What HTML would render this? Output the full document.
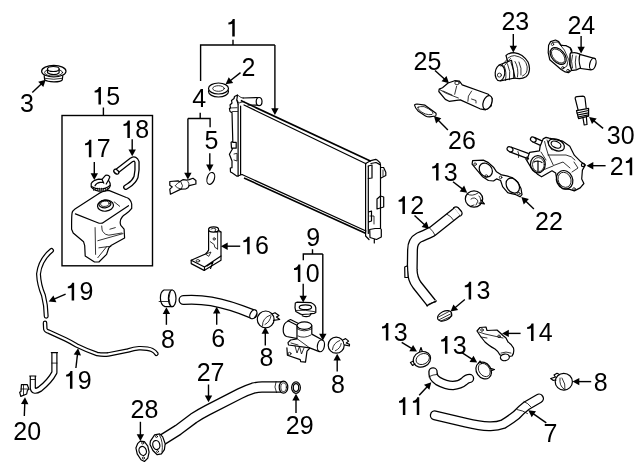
<!DOCTYPE html>
<html><head><meta charset="utf-8"><style>
html,body{margin:0;padding:0;background:#fff;width:640px;height:471px;overflow:hidden}
svg{position:absolute;left:0;top:0;will-change:transform}
text{font-family:"Liberation Sans",sans-serif;font-size:25px;fill:#000}
.ld{stroke:#000;stroke-width:1.4;fill:none}
.o{stroke:#000;stroke-width:1.2;fill:none;stroke-linejoin:round;stroke-linecap:round}
.of{stroke:#000;stroke-width:1.2;fill:#fff;stroke-linejoin:round;stroke-linecap:round}
.t{stroke:#000;stroke-width:0.8;fill:none;stroke-linecap:round}
</style></head><body>
<svg width="640" height="471" viewBox="0 0 640 471">
<path d="M232.25,36.50 V23.80 Q231.05,24.40 228.40,24.40 V22.60 Q231.75,22.20 232.75,18.90 H234.75 V36.50 Z" fill="#000"/>
<text x="241.60" y="75.80">2</text>
<text x="20.00" y="112.30">3</text>
<text x="192.20" y="107.40">4</text>
<text x="204.60" y="148.90">5</text>
<path d="M98.45,104.60 V91.90 Q97.25,92.50 94.60,92.50 V90.70 Q97.95,90.30 98.95,87.00 H100.95 V104.60 Z" fill="#000"/>
<text x="106.25" y="104.60">5</text>
<path d="M88.85,157.30 V144.60 Q87.65,145.20 85.00,145.20 V143.40 Q88.35,143.00 89.35,139.70 H91.35 V157.30 Z" fill="#000"/>
<text x="96.65" y="157.30">7</text>
<path d="M127.35,138.00 V125.30 Q126.15,125.90 123.50,125.90 V124.10 Q126.85,123.70 127.85,120.40 H129.85 V138.00 Z" fill="#000"/>
<text x="135.15" y="138.00">8</text>
<path d="M247.15,254.30 V241.60 Q245.95,242.20 243.30,242.20 V240.40 Q246.65,240.00 247.65,236.70 H249.65 V254.30 Z" fill="#000"/>
<text x="254.95" y="254.30">6</text>
<text x="306.20" y="245.60">9</text>
<path d="M297.85,282.10 V269.40 Q296.65,270.00 294.00,270.00 V268.20 Q297.35,267.80 298.35,264.50 H300.35 V282.10 Z" fill="#000"/>
<text x="305.65" y="282.10">0</text>
<path d="M71.65,300.40 V287.70 Q70.45,288.30 67.80,288.30 V286.50 Q71.15,286.10 72.15,282.80 H74.15 V300.40 Z" fill="#000"/>
<text x="79.45" y="300.40">9</text>
<path d="M69.95,388.70 V376.00 Q68.75,376.60 66.10,376.60 V374.80 Q69.45,374.40 70.45,371.10 H72.45 V388.70 Z" fill="#000"/>
<text x="77.75" y="388.70">9</text>
<text x="13.30" y="439.60">2</text>
<text x="27.20" y="439.60">0</text>
<text x="161.00" y="347.70">8</text>
<text x="211.30" y="346.60">6</text>
<text x="259.50" y="366.30">8</text>
<text x="331.00" y="392.60">8</text>
<text x="196.70" y="381.00">2</text>
<text x="210.60" y="381.00">7</text>
<text x="130.60" y="418.40">2</text>
<text x="144.50" y="418.40">8</text>
<text x="285.80" y="433.80">2</text>
<text x="299.70" y="433.80">9</text>
<text x="501.40" y="29.70">2</text>
<text x="515.30" y="29.70">3</text>
<text x="567.40" y="34.00">2</text>
<text x="581.30" y="34.00">4</text>
<text x="413.50" y="70.00">2</text>
<text x="427.40" y="70.00">5</text>
<text x="448.00" y="149.00">2</text>
<text x="461.90" y="149.00">6</text>
<text x="606.80" y="144.20">3</text>
<text x="620.70" y="144.20">0</text>
<text x="609.70" y="175.20">2</text>
<path d="M629.70,175.20 V162.50 Q628.50,163.10 625.85,163.10 V161.30 Q629.20,160.90 630.20,157.60 H632.20 V175.20 Z" fill="#000"/>
<path d="M436.05,180.50 V167.80 Q434.85,168.40 432.20,168.40 V166.60 Q435.55,166.20 436.55,162.90 H438.55 V180.50 Z" fill="#000"/>
<text x="443.85" y="180.50">3</text>
<path d="M402.45,213.90 V201.20 Q401.25,201.80 398.60,201.80 V200.00 Q401.95,199.60 402.95,196.30 H404.95 V213.90 Z" fill="#000"/>
<text x="410.25" y="213.90">2</text>
<text x="535.10" y="229.80">2</text>
<text x="549.00" y="229.80">2</text>
<path d="M468.65,299.40 V286.70 Q467.45,287.30 464.80,287.30 V285.50 Q468.15,285.10 469.15,281.80 H471.15 V299.40 Z" fill="#000"/>
<text x="476.45" y="299.40">3</text>
<path d="M531.05,341.00 V328.30 Q529.85,328.90 527.20,328.90 V327.10 Q530.55,326.70 531.55,323.40 H533.55 V341.00 Z" fill="#000"/>
<text x="538.85" y="341.00">4</text>
<path d="M385.85,340.50 V327.80 Q384.65,328.40 382.00,328.40 V326.60 Q385.35,326.20 386.35,322.90 H388.35 V340.50 Z" fill="#000"/>
<text x="393.65" y="340.50">3</text>
<path d="M444.95,353.70 V341.00 Q443.75,341.60 441.10,341.60 V339.80 Q444.45,339.40 445.45,336.10 H447.45 V353.70 Z" fill="#000"/>
<text x="452.75" y="353.70">3</text>
<text x="593.80" y="390.50">8</text>
<path d="M402.85,414.90 V402.20 Q401.65,402.80 399.00,402.80 V401.00 Q402.35,400.60 403.35,397.30 H405.35 V414.90 Z" fill="#000"/>
<path d="M416.75,414.90 V402.20 Q415.55,402.80 412.90,402.80 V401.00 Q416.25,400.60 417.25,397.30 H419.25 V414.90 Z" fill="#000"/>
<text x="543.50" y="441.80">7</text>
<path d="M233,39.7 V45 M200.6,81 V45 H274.9" class="ld"/>
<line x1="274.9" y1="45.0" x2="274.9" y2="109.2" class="ld"/>
<polygon points="274.9,115.0 271.2,108.2 278.6,108.2" fill="#000"/>
<line x1="240.5" y1="72.6" x2="230.2" y2="80.7" class="ld"/>
<polygon points="225.6,84.3 228.7,77.2 233.2,83.0" fill="#000"/>
<line x1="32.3" y1="92.5" x2="41.5" y2="83.7" class="ld"/>
<polygon points="45.7,79.7 43.3,87.1 38.2,81.7" fill="#000"/>
<path d="M200.2,112.7 V118.5 M210.1,127.2 V118.5 H187.9" class="ld"/>
<line x1="187.9" y1="118.5" x2="187.9" y2="173.7" class="ld"/>
<polygon points="187.9,179.5 184.2,172.7 191.6,172.7" fill="#000"/>
<line x1="209.8" y1="153.3" x2="209.8" y2="165.6" class="ld"/>
<polygon points="209.8,171.4 206.1,164.6 213.5,164.6" fill="#000"/>
<path d="M103.4,107.5 V115.5" class="ld"/>
<rect x="62" y="115.5" width="90.5" height="150.3" class="ld" fill="none"/>
<line x1="94.3" y1="162.0" x2="94.3" y2="174.2" class="ld"/>
<polygon points="94.3,180.0 90.6,173.2 98.0,173.2" fill="#000"/>
<line x1="132.2" y1="139.3" x2="132.2" y2="150.5" class="ld"/>
<polygon points="132.2,156.3 128.5,149.5 135.9,149.5" fill="#000"/>
<line x1="240.2" y1="246.2" x2="226.7" y2="246.2" class="ld"/>
<polygon points="220.9,246.2 227.7,242.6 227.7,249.9" fill="#000"/>
<path d="M312.5,249.3 V254 M303.3,260.3 V254 H322.8" class="ld"/>
<line x1="322.8" y1="254.0" x2="322.8" y2="334.7" class="ld"/>
<polygon points="322.8,340.5 319.1,333.7 326.5,333.7" fill="#000"/>
<line x1="303.2" y1="283.7" x2="303.2" y2="296.8" class="ld"/>
<polygon points="303.2,302.6 299.5,295.8 306.9,295.8" fill="#000"/>
<line x1="65.6" y1="294.1" x2="54.0" y2="299.2" class="ld"/>
<polygon points="48.7,301.6 53.4,295.5 56.4,302.2" fill="#000"/>
<line x1="75.9" y1="368.0" x2="77.5" y2="354.1" class="ld"/>
<polygon points="78.1,348.3 81.0,355.5 73.7,354.6" fill="#000"/>
<line x1="24.3" y1="416.0" x2="24.8" y2="403.1" class="ld"/>
<polygon points="25.0,397.3 28.4,404.2 21.0,404.0" fill="#000"/>
<line x1="166.4" y1="324.8" x2="166.4" y2="313.1" class="ld"/>
<polygon points="166.4,307.3 170.1,314.1 162.7,314.1" fill="#000"/>
<line x1="216.7" y1="324.8" x2="216.7" y2="312.5" class="ld"/>
<polygon points="216.7,306.7 220.4,313.5 213.0,313.5" fill="#000"/>
<line x1="265.3" y1="345.6" x2="265.3" y2="332.8" class="ld"/>
<polygon points="265.3,327.0 269.0,333.8 261.6,333.8" fill="#000"/>
<line x1="337.2" y1="371.5" x2="337.2" y2="359.6" class="ld"/>
<polygon points="337.2,353.8 340.9,360.6 333.5,360.6" fill="#000"/>
<line x1="208.5" y1="384.5" x2="208.5" y2="396.5" class="ld"/>
<polygon points="208.5,402.3 204.8,395.5 212.2,395.5" fill="#000"/>
<line x1="140.4" y1="421.8" x2="140.4" y2="435.3" class="ld"/>
<polygon points="140.4,441.1 136.7,434.3 144.1,434.3" fill="#000"/>
<line x1="296.0" y1="412.9" x2="296.0" y2="399.6" class="ld"/>
<polygon points="296.0,393.8 299.7,400.6 292.3,400.6" fill="#000"/>
<line x1="513.3" y1="33.9" x2="513.3" y2="46.7" class="ld"/>
<polygon points="513.3,52.5 509.6,45.7 517.0,45.7" fill="#000"/>
<line x1="581.1" y1="36.1" x2="581.1" y2="47.8" class="ld"/>
<polygon points="581.1,53.6 577.4,46.8 584.8,46.8" fill="#000"/>
<line x1="435.0" y1="70.4" x2="444.7" y2="79.3" class="ld"/>
<polygon points="449.0,83.2 441.5,81.3 446.5,75.9" fill="#000"/>
<line x1="447.9" y1="130.0" x2="438.0" y2="120.1" class="ld"/>
<polygon points="433.9,116.0 441.3,118.2 436.1,123.4" fill="#000"/>
<line x1="603.1" y1="128.4" x2="593.6" y2="120.6" class="ld"/>
<polygon points="589.1,116.9 596.7,118.4 592.0,124.1" fill="#000"/>
<line x1="605.6" y1="165.7" x2="592.3" y2="165.7" class="ld"/>
<polygon points="586.5,165.7 593.3,162.0 593.3,169.4" fill="#000"/>
<line x1="453.0" y1="181.7" x2="462.6" y2="189.1" class="ld"/>
<polygon points="467.2,192.7 459.6,191.5 464.1,185.6" fill="#000"/>
<line x1="414.5" y1="215.5" x2="424.8" y2="224.9" class="ld"/>
<polygon points="429.1,228.8 421.6,227.0 426.6,221.5" fill="#000"/>
<line x1="533.9" y1="209.0" x2="525.6" y2="201.0" class="ld"/>
<polygon points="521.4,197.0 528.9,199.0 523.7,204.4" fill="#000"/>
<line x1="464.8" y1="299.5" x2="455.0" y2="307.8" class="ld"/>
<polygon points="450.6,311.6 453.4,304.4 458.2,310.0" fill="#000"/>
<line x1="520.6" y1="333.4" x2="507.8" y2="333.4" class="ld"/>
<polygon points="502.0,333.4 508.8,329.7 508.8,337.1" fill="#000"/>
<line x1="401.7" y1="342.4" x2="412.0" y2="348.6" class="ld"/>
<polygon points="417.0,351.6 409.3,351.3 413.1,344.9" fill="#000"/>
<line x1="461.9" y1="352.7" x2="472.3" y2="359.4" class="ld"/>
<polygon points="477.2,362.5 469.5,361.9 473.5,355.7" fill="#000"/>
<line x1="591.2" y1="381.6" x2="578.3" y2="381.6" class="ld"/>
<polygon points="572.5,381.6 579.3,377.9 579.3,385.3" fill="#000"/>
<line x1="419.2" y1="395.3" x2="427.4" y2="386.5" class="ld"/>
<polygon points="431.3,382.2 429.4,389.7 424.0,384.7" fill="#000"/>
<line x1="546.3" y1="422.9" x2="533.1" y2="413.6" class="ld"/>
<polygon points="528.3,410.3 536.0,411.2 531.7,417.2" fill="#000"/>
<path d="M243,98 L259.1,97.5 M248,105 L259.1,105.1" class="o"/>
<ellipse cx="259.1" cy="101.6" rx="2.9" ry="4.1" transform="rotate(0 259.1 101.6)" class="of"/>
<path d="M238.1,104 V176.3 M240.6,106 V174.5" class="o"/>
<path d="M240.8,100.6 L370.9,161.2" stroke="#000" stroke-width="1.6" fill="none"/>
<path d="M244,105 L366,163.7" class="o"/>
<path d="M242,174.5 L366,231" class="o"/>
<path d="M244,178 L366,233.6" stroke="#000" stroke-width="1.6" fill="none"/>
<path d="M238.1,104 L236.8,100 L237.5,95 L234.5,96.5 L234,98.5 L231.5,100.5 L232,103 L230,105 L230.5,108 L229.4,108.5 L230,111.5 L232,112.6 L232.8,141.4 L231.1,142.3 L231.5,148.2 L236.2,148.2 L236.2,142.3 L232.8,142.3 M232.8,148.2 L229.4,154.2 L232,161 L232,167.7 L230.3,168 L230.5,172 L232,172.8 L237,176.2 L242,174.5" class="o"/>
<path d="M237.5,95 L241,97.5 L243.5,98 M236.8,100 L239,103 L244,101.5 M230,108 L237,107.7 M232.5,111.5 L237.5,111.5 M234,154 L237,153.3 L237,161 L234,160" class="t"/>
<path d="M365.6,163.3 V236 L369,239.5 M368.3,166 V233.5" class="o"/>
<path d="M366.1,163.3 L370.9,160.6 L375.7,159.3 L377.8,160.6 L380,162.7 L380.5,164.9 V228.5 L381.3,229.5 V237 L376.5,239.5 L370,237.5 L369.7,229.5 L375,228.5 L380.5,228.5 M374.3,239.5 V243" class="o"/>
<path d="M370.9,163.5 L376,162.5 L380.5,164.9 M368.3,166 L372,165 V178 L368.3,178.5 M381,167.5 L383.6,167.5 L385.8,172.3 V175.5 L381,178 M380.5,196 L377,199 V209 L383.7,207 V197 L380.5,196 M368.5,212 L371.5,211 V221 L368.5,222" class="o"/>
<path d="M383,170 V176 M370,216 L374,216 V224" class="t"/>
<ellipse cx="218.5" cy="91.5" rx="10" ry="5.5" transform="rotate(0 218.5 91.5)" class="o"/>
<ellipse cx="218.5" cy="88.5" rx="10" ry="5.5" transform="rotate(0 218.5 88.5)" class="of"/>
<ellipse cx="218.5" cy="88.5" rx="5.8" ry="2.8" transform="rotate(0 218.5 88.5)" class="t"/>
<path d="M44.2,75.5 L44.6,79.8 Q47,81.8 54,81.8 Q61,81.8 62.3,79.8 L62.8,75.5" class="of"/>
<path d="M44.5,78.3 Q54,80.3 62.5,78.3" class="t"/>
<ellipse cx="53.8" cy="71.2" rx="12.2" ry="5.8" transform="rotate(0 53.8 71.2)" class="of"/>
<ellipse cx="53.6" cy="72.5" rx="9" ry="3.6" transform="rotate(0 53.6 72.5)" class="t"/>
<path d="M47.5,69.2 V72.8 Q50,74.6 53.5,74.6 Q57.5,74.6 59.1,72.8 V69.2" class="of"/>
<ellipse cx="53.3" cy="69" rx="5.8" ry="2.5" transform="rotate(0 53.3 69)" class="of"/>
<ellipse cx="210.8" cy="178.4" rx="3.6" ry="6.1" transform="rotate(18 210.8 178.4)" class="o"/>
<path d="M169.8,181.5 L178.1,180.8 L179.6,181.8 L183.2,179.6 L186.7,180.2 L189.2,179.6 L193,178.3 L195.9,180.5 L195.9,184 L189.2,185.6 L187.9,187.8 L186,188.8 L180.9,189.1 L170.4,194.2 L169.8,189.1 L172.3,186.9 L169.8,185.3 Z" class="of"/>
<path d="M179.6,181.8 Q174,186 175.5,186.2 Q177,188 180.9,189.1 M181,182 Q184,186 181.5,189 M187.9,181.5 Q189.5,183.5 188.9,185.6" class="t"/>
<path d="M72.1,212.8 C71.5,216 71.6,220 71.6,229.2 L73.2,233 L83.6,241.8 L84.7,245.6 L85.2,256 L94.5,262 L98.9,262 L106.6,254.4 L108.8,247.8 L111,245.6 L124.6,238 L124.1,229.2 L120.8,225.4 C119.5,222 120,219.5 122.5,216.5 C126,213.5 128.5,212.8 131.7,208.4 V204 C131,200 128,197.5 126.3,197.5 L108.8,190.4 C104,191 100,192.5 97.8,194.2 L75,209 C73,210.5 72.3,211.5 72.1,212.8 Z" class="of"/>
<path d="M75.4,213.9 L97.8,222.7 C99,223.3 101,223.3 102.2,223.2 L128.5,205.7" class="o"/>
<path d="M95.1,227.6 L95.6,254.4 M101.7,226 Q102,231.4 102.7,231.4 Q105,235.2 108.8,235.2 L121.9,233 M97.8,240.7 L123,233.6 M98.9,247.8 L111,246.2 M97.8,257.7 L106.6,246.7 M109.9,229.2 L115.3,227.6 M114.2,201.9 L119.7,206.3" class="t"/>
<ellipse cx="105.5" cy="205.7" rx="8" ry="5.5" transform="rotate(-5 105.5 205.7)" class="o"/>
<ellipse cx="104.9" cy="204" rx="6" ry="3.8" transform="rotate(-5 104.9 204)" class="o"/>
<ellipse cx="104.9" cy="203.8" rx="4.3" ry="2.6" transform="rotate(-5 104.9 203.8)" class="t"/>
<path d="M91.2,183.5 Q93,180.3 98.6,179.2 L102,179.4 L105.5,175.3 Q108.5,174.5 109.8,176.9 L108.4,180.2 Q110.5,183 110.3,185.5 Q110,188.5 105,190.9 L98.6,191.1 Q93.5,190.2 91.2,187 Z" class="of"/>
<path d="M91.5,186.5 Q95,189 100,189 Q106,189 110,185.5" class="o"/>
<path d="M93.5,188.5 L93.8,190.6 M95.5,188.3 L95.8,190.6 M97.5,188.2 L97.8,190.6 M99.5,188.2 L99.8,190.6 M101.5,188.2 L101.8,190.6 M103.5,188.3 L103.8,190.6 M105.5,188.4 L105.8,190.6 M107.5,188.5 L107.8,190.6" class="t"/>
<path d="M95,185.8 Q96,183.2 100,182.4 L103.5,182.2 M102,179.4 L103.8,183.2 M108.4,180.2 L106.2,184" class="o"/>
<path d="M116.3,171.7 L131.8,159.7 Q135.5,157.5 137,162 Q137.5,170 136,177 Q134,182 128.5,185.5 L125.8,187.2" fill="none" stroke="#000" stroke-width="5.4" stroke-linecap="round" stroke-linejoin="round"/>
<path d="M116.3,171.7 L131.8,159.7 Q135.5,157.5 137,162 Q137.5,170 136,177 Q134,182 128.5,185.5 L125.8,187.2" fill="none" stroke="#fff" stroke-width="2.8000000000000003" stroke-linecap="round" stroke-linejoin="round"/>
<ellipse cx="116.3" cy="171.7" rx="1.8" ry="2.9" transform="rotate(-50 116.3 171.7)" class="of"/>
<path d="M208.6,229 V250 Q208,252 205.5,254 L191.2,260.2 V263.6 L204.1,270.4 L221,260.2 V232 L218.7,230.5" class="of"/>
<path d="M191.2,260.2 L204.5,267 L221,256 M204.5,267 V270.4 M207,266 L213,262 L210.5,268.5" class="o"/>
<ellipse cx="213.6" cy="229.5" rx="5" ry="2.6" transform="rotate(0 213.6 229.5)" class="of"/>
<path d="M211,229 Q213.5,227.5 216,229 L215,231.2 L217.6,232.4 V249 M214.8,231.6 L221,232" class="t"/>
<path d="M210.3,241.7 L214.2,244.5 L214.8,247.3 L217.6,249 M206,254 L211,252 L209,256 Z" class="t"/>
<ellipse cx="214.2" cy="238.9" rx="1.1" ry="1.2" transform="rotate(0 214.2 238.9)" class="t"/>
<ellipse cx="197.9" cy="260.8" rx="1.8" ry="1.2" transform="rotate(0 197.9 260.8)" class="t"/>
<path d="M302.2,315.7 Q306,317.5 309.6,316 L311.2,313.6" class="o"/>
<path d="M295.3,303 L296.9,302.2 L311.2,302.7 Q314,304 315,305.6 L315.8,307.7 V312.5 L314.4,313.3 L311.2,313.6 L309.6,314 L302.2,314.5 L300.6,314.1 L295.8,311.5 L295,307.7 Z" class="of"/>
<ellipse cx="305.4" cy="307.3" rx="6.2" ry="2.4" transform="rotate(0 305.4 307.3)" class="o"/>
<path d="M296.4,310.4 Q305,309.5 315,311.7" class="t"/>
<path d="M288.5,321 L297.5,325.5 V338.7 L286.5,336.5 Q283,335 283.2,329 Q283.5,322.5 288.5,321 Z" class="of"/>
<path d="M288,320.8 L290.5,319.5 L298.5,323.5" class="o"/>
<path d="M297,325.8 V339 L290.6,340 L288,342.6 L288.5,345 L309.7,347.9 L319.3,351.6 L322.5,340 L311.8,334.1 V325.8 Z" class="of"/>
<ellipse cx="304.4" cy="325.6" rx="7.4" ry="3.7" transform="rotate(0 304.4 325.6)" class="of"/>
<path d="M297.2,328.8 Q304,333 311.8,328.8" class="t"/>
<path d="M298,336 Q304,339 311,335 M297.5,339 L309.7,347.9" class="t"/>
<ellipse cx="320.9" cy="345.8" rx="3.5" ry="6" transform="rotate(10 320.9 345.8)" class="of"/>
<path d="M286.9,347.9 L287.4,355.3 L300.2,359.6 L300.7,361.7 L305.5,362.2 L307,351.1 L309.5,348.5" class="o"/>
<path d="M295,346 L297,353 L299.5,346.5 L301.5,354 L304,348 M291,343 L298,345" class="t"/>
<ellipse cx="289.6" cy="353.7" rx="1.4" ry="1.4" transform="rotate(0 289.6 353.7)" class="t"/>
<path d="M164,290 Q160.2,292 160.4,298 Q160.5,305 165,306.6 L172.2,306.6 M164,290 L172.2,290" class="of"/>
<ellipse cx="172.2" cy="298.3" rx="3.8" ry="8.3" transform="rotate(0 172.2 298.3)" class="of"/>
<path d="M170.3,291 Q167.5,298 170.3,306 M159.1,301.5 H167.7" class="t"/>
<ellipse cx="265.7" cy="319.4" rx="8.4" ry="8.4" transform="rotate(0 265.7 319.4)" class="of"/>
<path d="M262.5,326 Q262,318 270.5,315 M265,324.5 Q270,322 271,316" class="t"/>
<path d="M272,314 L275,312.7 L279,315.5 L276.5,317 L279.7,319.5 L273.5,320.4" class="o"/>
<ellipse cx="336.2" cy="345.2" rx="8" ry="8" transform="rotate(0 336.2 345.2)" class="of"/>
<path d="M332.5,349.5 Q333,343 339.8,340.5 M335.3,350.8 Q340.5,348.5 341.2,343.5" class="t"/>
<path d="M343.3,339.7 L345.6,338.6 L348.6,341.1 L346.3,343 L349.5,344.4 L349.4,346 L344.5,344.8" class="of"/>
<ellipse cx="563.8" cy="381.7" rx="8.6" ry="8.4" transform="rotate(0 563.8 381.7)" class="of"/>
<path d="M560,378 Q559,386 564,389 M562,378 Q566,384 565,390" class="t"/>
<path d="M559.5,374.5 L557,373.3 L554,375 L555.5,377 L550.7,378.5 L553,380.3 L556,380" class="o"/>
<path d="M183.5,300 C200,299 218,300 252.5,314" fill="none" stroke="#000" stroke-width="10" stroke-linecap="round" stroke-linejoin="round"/>
<path d="M183.5,300 C200,299 218,300 252.5,314" fill="none" stroke="#fff" stroke-width="7.4" stroke-linecap="round" stroke-linejoin="round"/>
<ellipse cx="253.3" cy="314.3" rx="3" ry="4.8" transform="rotate(30 253.3 314.3)" class="of"/>
<path d="M51.5,250.5 Q40,260 38.5,274 Q39,285 43.4,295.2 Q46,305 46.2,316.3" fill="none" stroke="#000" stroke-width="5" stroke-linecap="round" stroke-linejoin="round"/>
<path d="M51.5,250.5 Q40,260 38.5,274 Q39,285 43.4,295.2 Q46,305 46.2,316.3" fill="none" stroke="#fff" stroke-width="2.6" stroke-linecap="round" stroke-linejoin="round"/>
<path d="M45,322.8 L45.3,329 Q45.8,331 49,331.8 L65.4,339.3 Q71,342 76.7,345.5 Q88,351 97.1,354 Q103,355 108.3,354.4 Q118,352.5 128,350.5 Q134,348.5 139,348.2 Q148,348 152,350 Q155,351.5 156.4,353.8" fill="none" stroke="#000" stroke-width="4.6" stroke-linecap="round" stroke-linejoin="round"/>
<path d="M45,322.8 L45.3,329 Q45.8,331 49,331.8 L65.4,339.3 Q71,342 76.7,345.5 Q88,351 97.1,354 Q103,355 108.3,354.4 Q118,352.5 128,350.5 Q134,348.5 139,348.2 Q148,348 152,350 Q155,351.5 156.4,353.8" fill="none" stroke="#fff" stroke-width="2.1999999999999997" stroke-linecap="round" stroke-linejoin="round"/>
<path d="M54.4,352.6 V372.5 Q50,381 40,389 Q33.5,393 32.8,388 V376" fill="none" stroke="#000" stroke-width="6.2" stroke-linecap="butt" stroke-linejoin="round"/>
<path d="M54.4,352.6 V372.5 Q50,381 40,389 Q33.5,393 32.8,388 V376" fill="none" stroke="#fff" stroke-width="3.8000000000000003" stroke-linecap="butt" stroke-linejoin="round"/>
<path d="M51.3,352.6 H57.5 M29.7,376 H35.9" class="o"/>
<path d="M51.8,363.1 H57 M30.5,379.5 H35" class="t"/>
<path d="M21.4,384.7 L27.3,384.7 L29,389.4 L27.5,390 L26.7,394 L20.8,396.4 L19.7,392.3 L21,391.5 Z" class="of"/>
<path d="M23.5,385 V395 M21,389 L28,389" class="t"/>
<path d="M162,440 Q170,435 178,430 Q186,424 193.6,418.3 Q200,414 207.6,410.1 L239.7,393.7 Q247,390 253,388.2 Q258,387 262,387 L284,387" fill="none" stroke="#000" stroke-width="11.5" stroke-linecap="butt" stroke-linejoin="round"/>
<path d="M162,440 Q170,435 178,430 Q186,424 193.6,418.3 Q200,414 207.6,410.1 L239.7,393.7 Q247,390 253,388.2 Q258,387 262,387 L284,387" fill="none" stroke="#fff" stroke-width="8.9" stroke-linecap="butt" stroke-linejoin="round"/>
<ellipse cx="283.5" cy="387.2" rx="4.3" ry="6" transform="rotate(0 283.5 387.2)" class="of"/>
<ellipse cx="283.6" cy="387.2" rx="2.8" ry="4.3" transform="rotate(0 283.6 387.2)" class="t"/>
<path d="M276,381.6 Q273.5,387 276.5,392.6" class="t"/>
<path d="M150.4,441.1 L154.6,434.8 L159.7,433.9 L162.7,436.9 L165.2,443.7 L164.4,449.6 L161.4,453.9 L157.2,454.7 L152.9,450.5 L150,444.5 Z" class="of"/>
<ellipse cx="156.3" cy="445" rx="3.5" ry="4.5" transform="rotate(-15 156.3 445)" class="o"/>
<path d="M159.5,435 Q163.5,442 162,452" class="t"/>
<ellipse cx="156.5" cy="436.5" rx="1" ry="1" transform="rotate(0 156.5 436.5)" class="t"/>
<ellipse cx="157.5" cy="451.5" rx="1" ry="1" transform="rotate(0 157.5 451.5)" class="t"/>
<path d="M140.2,441.1 L144.4,441.6 L147.8,446.2 L149.1,452.2 L147.8,458.1 L144.4,461.5 L141,459.8 L137.2,453.9 L135.9,447.9 L137.6,443.7 Z" class="o"/>
<ellipse cx="142.7" cy="450.9" rx="3.6" ry="4.6" transform="rotate(-20 142.7 450.9)" class="o"/>
<ellipse cx="142.7" cy="443" rx="1.1" ry="1.1" transform="rotate(0 142.7 443)" class="t"/>
<ellipse cx="143.4" cy="458" rx="1.1" ry="1.1" transform="rotate(0 143.4 458)" class="t"/>
<ellipse cx="296" cy="387.6" rx="4.4" ry="5.7" transform="rotate(0 296 387.6)" class="o"/>
<ellipse cx="296" cy="387.6" rx="2.7" ry="3.9" transform="rotate(0 296 387.6)" class="o"/>
<path d="M506,55.5 Q509.5,52.6 513.8,52.6 Q518.5,53 522,55.5 Q526,58.5 528,62 Q529.8,66 529.4,70 Q529,74.5 526,76.8 Q523,78.6 519.5,78.6 L512,78 Z" class="of"/>
<path d="M508,58 Q511,55.6 514.5,55.6 Q519.5,56.3 523.4,59.3 Q526.6,62.5 527.2,66.8 Q527.4,70.5 526.3,72.8 Q524.8,75 522.5,76" class="t"/>
<path d="M511.5,60.3 L499,65 L500.4,80.8 L515,78 Z" class="of"/>
<ellipse cx="500" cy="72.9" rx="4.8" ry="7.9" transform="rotate(5 500 72.9)" class="of"/>
<ellipse cx="499.4" cy="75.1" rx="2" ry="2" transform="rotate(0 499.4 75.1)" class="t"/>
<path d="M504,65.5 Q507,72 505.5,80.5 M507.5,63.8 Q511,71 509.5,79.8 M511,62.5 Q515,70 513.5,78.5 M515,61.5 Q519,68 517.5,77 M519,62 Q522,68 521,75 M505,65 L510.5,58.5 M501,66.2 L507,59.5" class="t"/>
<path d="M578,53.8 L595.2,58.6 L591,69.8 L577,68 Z" class="of"/>
<ellipse cx="592.8" cy="64" rx="3" ry="5.9" transform="rotate(15 592.8 64)" class="of"/>
<path d="M561.1,45.3 Q566,44.8 570,47.7 Q572.5,50 571.6,53 Q576,52 580,54.3 Q578,60 580.5,67.9 Q575,71 571.6,70.3 L570,64 V55 Z" class="of"/>
<path d="M572.5,55 Q570.5,61 572.5,68 M576,56 Q574.5,62 576,68.5" class="t"/>
<path d="M550.6,41.6 L555.5,40 L558.7,41.6 L561.1,45.3 L566,45.7 L570,47.7 L571.6,51.7 L570,54.1 L569.6,64.4 L571.6,70.3 L568.4,72.7 L565.2,71.9 L561.1,69.5 L549.8,59.8 L548.2,52.5 L548.6,45.3 Z" class="of"/>
<path d="M552.3,42.4 L557.9,42 L564.4,50.1 L568.4,59 L566.8,66.2 L562.7,68.6" class="t"/>
<ellipse cx="558.2" cy="56" rx="6.3" ry="9.8" transform="rotate(-42 558.2 56)" class="o"/>
<ellipse cx="558.2" cy="56" rx="5" ry="8.4" transform="rotate(-42 558.2 56)" class="t"/>
<ellipse cx="552.5" cy="44.3" rx="1.2" ry="1.2" transform="rotate(0 552.5 44.3)" class="t"/>
<ellipse cx="562.8" cy="67.8" rx="1.2" ry="1.2" transform="rotate(0 562.8 67.8)" class="t"/>
<ellipse cx="568" cy="70.6" rx="1.3" ry="1.3" transform="rotate(0 568 70.6)" class="t"/>
<path d="M439.2,89.1 L442.5,87.7 L448.1,83 L454.7,80.7 L459.4,81.2 L462.2,84.9 L488.4,94.3 L492.2,98.5 L491.2,106 L485.6,109.8 L480,108.8 L460.3,99.9 L449.1,101.3 L445.3,99.4 L438.8,91.5 Z" class="of"/>
<ellipse cx="487.5" cy="102.5" rx="4.2" ry="7.2" transform="rotate(20 487.5 102.5)" class="of"/>
<path d="M439.7,89.6 L446.2,93.3 L458.4,98 M456.6,86.3 L454.7,94.3 M471.6,91 Q467,96 467.8,101.3 M471.5,99 L476,100.5 V103 M443,91 L452,95" class="t"/>
<ellipse cx="457" cy="83" rx="2.2" ry="1.8" transform="rotate(0 457 83)" class="t"/>
<path d="M414.5,105 Q415.5,104 417,104 L425,105.2 L436,113.2 Q436.5,115.5 435.5,116 L429.7,116.9 Q427,116.8 425.5,115.9 L418.4,111.3 Q415,108 414.5,105 Z" class="o"/>
<path d="M418,107.2 Q420,106.3 424,106.6 Q429,108.5 432.5,111.7 Q433.5,114 432,114.5 Q428.5,115 425.5,114 Q421.5,112.5 419.4,110.3 Q417.5,108.5 418,107.2 Z" class="t"/>
<path d="M578.2,110.4 L575.2,98.5 Q575,96.8 577,96.6 L583,96.2 Q584.8,96.4 585,98 L586.2,108.3" class="of"/>
<path d="M576.5,110.6 L588.6,108.3 L588.6,116.2 L578.6,118.6 Z" class="of"/>
<path d="M577,113 L588.5,110.5 M577.5,115 L588.5,112.8 M578,117 L588.5,114.8" class="o"/>
<path d="M583,118 L584.2,125 L587,124.5 L586.4,117.3" class="o"/>
<path d="M533.3,139.6 L542.5,143.8" fill="none" stroke="#000" stroke-width="6" stroke-linecap="butt" stroke-linejoin="round"/>
<path d="M533.3,139.6 L542.5,143.8" fill="none" stroke="#fff" stroke-width="3.4" stroke-linecap="butt" stroke-linejoin="round"/>
<ellipse cx="533.3" cy="139.6" rx="2.3" ry="3" transform="rotate(-60 533.3 139.6)" class="of"/>
<path d="M510,149.3 L528,156" fill="none" stroke="#000" stroke-width="6.2" stroke-linecap="butt" stroke-linejoin="round"/>
<path d="M510,149.3 L528,156" fill="none" stroke="#fff" stroke-width="3.6" stroke-linecap="butt" stroke-linejoin="round"/>
<ellipse cx="510" cy="149.3" rx="2.3" ry="3.1" transform="rotate(-60 510 149.3)" class="of"/>
<path d="M526.7,160.4 L529.7,152.3 L539.4,150.8 L540.1,146.3 L543.1,138.9 L546,137.4 L549,138.2 L562.4,141.1 L569.8,146.3 L574.3,155.2 L580.2,161.2 L585.4,164.9 L582.4,170.1 L581.7,179 L583.9,183.5 L580.2,187.9 L574.3,190.9 L569.8,189.4 L562.4,188.7 L557.2,182 L555.7,173.1 L552,170.8 L541.6,176.8 L537.9,174.6 L531.2,167.9 Z" class="of"/>
<path d="M518,151.5 Q519.5,154 518.5,157.5 M544.6,141.5 Q546,148 548,154 L553.5,165.5 L563,162 L570,168 M548,155 L566,155 Q572,156 575,160 M541,152 L546,160 M543,170 L553,166 M574,162 L578,168 L572,172 M547,140 Q548,146 552,150" class="t"/>
<ellipse cx="537.9" cy="164.2" rx="7.4" ry="8.6" transform="rotate(0 537.9 164.2)" class="o"/>
<ellipse cx="538.4" cy="164.6" rx="5.9" ry="7" transform="rotate(0 538.4 164.6)" class="t"/>
<path d="M534,162 Q538,159.8 542,162.5 M538,161 V171" class="o"/>
<ellipse cx="564.6" cy="179.8" rx="8" ry="9.5" transform="rotate(-25 564.6 179.8)" class="o"/>
<ellipse cx="564.6" cy="179.8" rx="6.3" ry="7.8" transform="rotate(-25 564.6 179.8)" class="t"/>
<ellipse cx="556.4" cy="144.9" rx="8.5" ry="5.5" transform="rotate(25 556.4 144.9)" class="o"/>
<ellipse cx="556" cy="144.6" rx="5.2" ry="3.1" transform="rotate(25 556 144.6)" class="o"/>
<ellipse cx="527" cy="158.6" rx="1.6" ry="1.6" transform="rotate(0 527 158.6)" class="t"/>
<ellipse cx="583" cy="165" rx="1.6" ry="1.6" transform="rotate(0 583 165)" class="o"/>
<ellipse cx="574" cy="189" rx="1.3" ry="1.3" transform="rotate(0 574 189)" class="t"/>
<path d="M472.6,160.6 L483.3,160.1 L488.4,162.6 L493.5,167.2 L496.5,171.8 L501.6,174.9 L506.7,175.9 L512.8,177.9 L517.9,182.5 L521,188.6 L522,194.7 L520,196.8 L515.9,194.7 L507.7,192.7 L502.6,186.6 L500.6,180.5 L496.5,178.9 L493.5,181 L488.4,180.5 L482.3,176.4 L477.2,170.3 L472.1,164.2 Z" class="o"/>
<ellipse cx="485.8" cy="170" rx="6" ry="7.4" transform="rotate(-40 485.8 170)" class="o"/>
<ellipse cx="512.8" cy="185.6" rx="6" ry="8" transform="rotate(-35 512.8 185.6)" class="o"/>
<ellipse cx="486.3" cy="176.2" rx="1.4" ry="1.4" transform="rotate(0 486.3 176.2)" class="t"/>
<ellipse cx="475.1" cy="164.2" rx="1.3" ry="1.3" transform="rotate(0 475.1 164.2)" class="t"/>
<ellipse cx="500.6" cy="177.4" rx="1.3" ry="1.3" transform="rotate(0 500.6 177.4)" class="t"/>
<ellipse cx="518.9" cy="193.7" rx="1.3" ry="1.3" transform="rotate(0 518.9 193.7)" class="t"/>
<ellipse cx="474" cy="199" rx="8.7" ry="8.2" transform="rotate(0 474 199)" class="of"/>
<path d="M467,194 Q472,197 478,193 M471,199 Q475,196 478,201 L476,205 M479,196 Q482,199 480,204 M474,205 L471,206" class="t"/>
<path d="M479,203 L484.4,204 L481,199.9" class="o"/>
<path d="M457.2,211.8 L432.3,231.5 Q424,235.5 419,237.5 Q412.5,241 412.5,250 L412.2,270 Q412.5,279 417,285 L431.6,303.3" fill="none" stroke="#000" stroke-width="11" stroke-linecap="butt" stroke-linejoin="round"/>
<path d="M457.2,211.8 L432.3,231.5 Q424,235.5 419,237.5 Q412.5,241 412.5,250 L412.2,270 Q412.5,279 417,285 L431.6,303.3" fill="none" stroke="#fff" stroke-width="8.4" stroke-linecap="butt" stroke-linejoin="round"/>
<path d="M453.6,207.7 Q456,206 458,207.5 L461.5,211.5 Q463,214 460.7,215.9 M426.8,305.8 L436.4,300.9" class="o"/>
<path d="M447,214.2 Q451,216 453.6,220.2 M429.5,227.9 Q433,231 435,235 M428,304.5 Q432,302 435.5,302" class="t"/>
<path d="M404.7,267 L407.5,265.7 L408.1,277.5 L404.9,277.5 Z" class="of"/>
<ellipse cx="444.6" cy="315.9" rx="7.6" ry="4.6" transform="rotate(-25 444.6 315.9)" class="of"/>
<path d="M438.5,317 L449,311.5 M439.5,319.5 L450.5,314 M441,321 L452,316" class="t"/>
<path d="M477,331 L480,327.5 L486,327 L487,330.5 L497,330 L503,335.5 L506,338 L508,342 Q512,344.5 513.5,348 Q514.5,353 512,356 L506,357 L500,354.9 Q498.5,351.5 495,349 Q488,345 485,342 L481,337 Z" class="of"/>
<ellipse cx="504.9" cy="357.4" rx="4.5" ry="3.3" transform="rotate(-10 504.9 357.4)" class="of"/>
<path d="M479,332 L485,334 L503,338 M481,337 L487,338 M501,353 Q506,351 511,353" class="t"/>
<ellipse cx="499" cy="336.3" rx="1.3" ry="1.3" transform="rotate(0 499 336.3)" class="t"/>
<ellipse cx="482" cy="330" rx="1.3" ry="1.3" transform="rotate(0 482 330)" class="t"/>
<ellipse cx="421.9" cy="359.3" rx="9" ry="7.5" transform="rotate(-25 421.9 359.3)" class="of"/>
<ellipse cx="422.8" cy="359" rx="7" ry="5.2" transform="rotate(-25 422.8 359)" class="t"/>
<path d="M413.5,361 L410.4,362.5 L412.5,365.4 L415,364 M419.6,351.5 L421,347.5 L422.2,351.2" class="o"/>
<ellipse cx="483.7" cy="370.5" rx="7.2" ry="9" transform="rotate(-35 483.7 370.5)" class="of"/>
<ellipse cx="484.3" cy="370" rx="5.3" ry="7.2" transform="rotate(-35 484.3 370)" class="t"/>
<path d="M478.3,363.5 L480,361 L481.8,363.5 M490.4,368.4 L494.5,369.5 L490.8,371" class="o"/>
<path d="M433,372 Q432.5,377.5 438,381 Q446,385.5 453,385.5 Q460,385 464,381.5 Q467,378.5 469.5,378.5" fill="none" stroke="#000" stroke-width="9.5" stroke-linecap="round" stroke-linejoin="round"/>
<path d="M433,372 Q432.5,377.5 438,381 Q446,385.5 453,385.5 Q460,385 464,381.5 Q467,378.5 469.5,378.5" fill="none" stroke="#fff" stroke-width="6.9" stroke-linecap="round" stroke-linejoin="round"/>
<path d="M428.9,376.7 Q433,374.5 437.3,374.4" class="t"/>
<path d="M434.8,415.3 L465.6,422.6 Q480,426 489,426.2 Q497,426.5 503.2,424.1 Q510,420 516.4,415 Q521,410 526.5,405.8 L539,398.5" fill="none" stroke="#000" stroke-width="10" stroke-linecap="round" stroke-linejoin="round"/>
<path d="M434.8,415.3 L465.6,422.6 Q480,426 489,426.2 Q497,426.5 503.2,424.1 Q510,420 516.4,415 Q521,410 526.5,405.8 L539,398.5" fill="none" stroke="#fff" stroke-width="7.4" stroke-linecap="round" stroke-linejoin="round"/>
<path d="M517,409.5 Q523,410.5 527.5,413.5 M524,401.5 Q528,403 531,407" class="t"/>
</svg></body></html>
